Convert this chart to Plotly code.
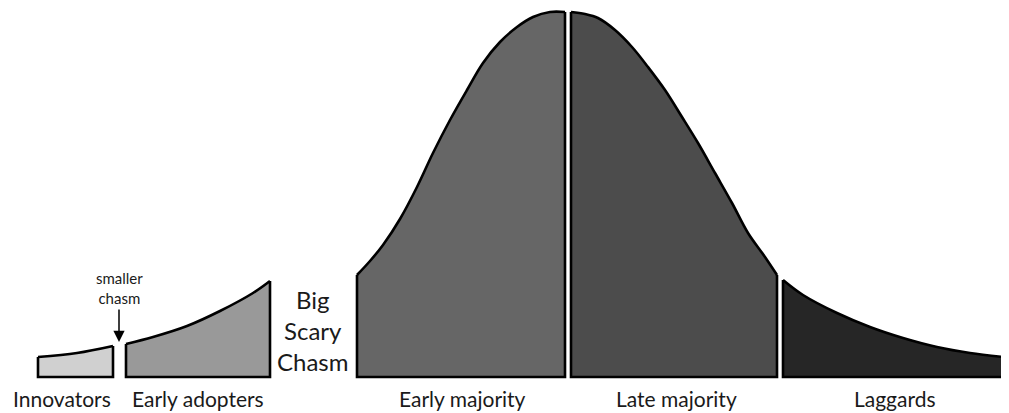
import plotly.graph_objects as go

# Segment names (category labels)
segments = ["Innovators", "Early adopters", "Early majority", "Late majority", "Laggards"]

# Curve readings per segment: horizontal position and height above the baseline
innovators_x = [38, 77, 113]
innovators_h = [20, 24, 31]

early_adopters_x = [126, 153, 187, 220, 253, 270]
early_adopters_h = [33, 40, 51, 66, 84, 96]

early_majority_x = [357, 370, 383, 400, 417, 433, 450, 467, 483, 500, 517, 533, 550, 565]
early_majority_h = [102, 116, 132, 158, 190, 224, 257, 287, 314, 335, 350, 360, 365, 365]

late_majority_x = [571, 585, 598, 615, 632, 648, 665, 682, 698, 715, 732, 748, 765, 777]
late_majority_h = [365, 363, 359, 347, 330, 310, 287, 260, 234, 204, 174, 144, 120, 102]

laggards_x = [783, 803, 837, 870, 903, 937, 970, 1004]
laggards_h = [97, 82, 64, 50, 39, 30, 24, 20]

segment_x = [innovators_x, early_adopters_x, early_majority_x, late_majority_x, laggards_x]
segment_h = [innovators_h, early_adopters_h, early_majority_h, late_majority_h, laggards_h]
segment_colors = ["#d0d0d0", "#999999", "#666666", "#4c4c4c", "#262626"]

# Label positions (centres) under each segment
label_x = [62, 198, 462, 676, 895]

fig = go.Figure()
for xs, hs, col in zip(segment_x, segment_h, segment_colors):
    # filled top curve
    fig.add_trace(go.Scatter(x=xs, y=hs, mode="lines", line=dict(shape="spline", smoothing=1.0, color="black", width=2.6),
                             fill="tozeroy", fillcolor=col, hoverinfo="skip", showlegend=False))
    # sides and base outline
    fig.add_trace(go.Scatter(x=[xs[-1], xs[-1], xs[0], xs[0]], y=[hs[-1], 0, 0, hs[0]], mode="lines",
                             line=dict(color="black", width=2.6), hoverinfo="skip", showlegend=False))

FONT = "Lato, Open Sans, sans-serif"
TXT = "#1a1a1a"
for name, lx in zip(segments, label_x):
    fig.add_annotation(x=lx, y=-21, text=name, showarrow=False, xref="x", yref="y",
                       font=dict(family=FONT, size=21, color=TXT), borderpad=0)

fig.add_annotation(x=313, y=47, text="Big<br>Scary<br>Chasm", showarrow=False, xref="x", yref="y",
                   font=dict(family=FONT, size=24, color=TXT), align="center")

fig.add_annotation(x=119, y=89, text="smaller<br>chasm", showarrow=False, xref="x", yref="y",
                   font=dict(family=FONT, size=15, color=TXT), align="center")
fig.add_annotation(x=119, y=35, ax=119, ay=69, axref="x", ayref="y", xref="x", yref="y", text="",
                   showarrow=True, arrowhead=2, arrowsize=1.5, arrowwidth=1.5, arrowcolor="black")

# The page has an 8px body margin, so the figure is 8px smaller and the ranges start 8px in.
fig.update_layout(width=1001, height=405, margin=dict(l=0, r=0, t=0, b=0),
                  paper_bgcolor="white", plot_bgcolor="white",
                  xaxis=dict(range=[8, 1009], visible=False, fixedrange=True),
                  yaxis=dict(range=[-36, 369], visible=False, fixedrange=True))
fig.write_html("out.html")
